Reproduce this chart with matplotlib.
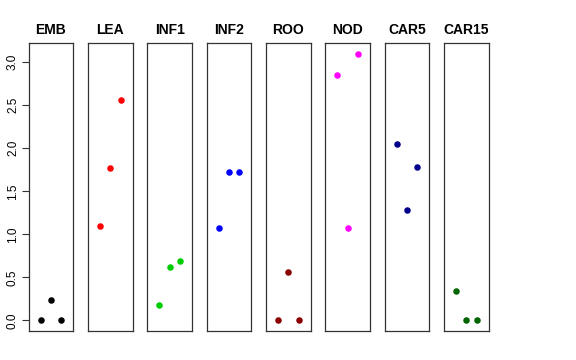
import matplotlib.pyplot as plt
import numpy as np

plt.rcParams['font.family'] = ['Liberation Sans', 'DejaVu Sans']

tissues = ['EMB', 'LEA', 'INF1', 'INF2', 'ROO', 'NOD', 'CAR5', 'CAR15']
colors = ['black', 'red', '#00cd00', 'blue', '#8b0000', 'magenta', '#00008b', '#006400']
reps = [1, 2, 3]

emb = [0.0, 0.24, 0.0]
lea = [1.10, 1.77, 2.56]
inf1 = [0.18, 0.62, 0.69]
inf2 = [1.07, 1.72, 1.73]
roo = [0.0, 0.56, 0.0]
nod = [2.85, 1.07, 3.10]
car5 = [2.05, 1.28, 1.78]
car15 = [0.34, 0.0, 0.0]
values = [emb, lea, inf1, inf2, roo, nod, car5, car15]

fig = plt.figure(figsize=(5.76, 3.6), dpi=100)

ymax = 3.1
for i, name in enumerate(tissues):
    ax = fig.add_axes([0.0498 + 0.103 * i, 0.0806, 0.0774, 0.8])
    ax.scatter(reps, values[i], s=22, color=colors[i], linewidths=0, zorder=3)
    ax.set_xlim(-0.16, 4.16)
    ax.set_ylim(-0.04 * ymax, ymax * 1.04)
    ax.set_title(name, fontsize=10, fontweight='bold', pad=6.5)
    ax.set_xticks([])
    for sp in ax.spines.values():
        sp.set_linewidth(0.9)
        sp.set_color('#333333')
    if i == 0:
        ax.set_yticks(np.arange(0, 3.01, 0.5))
        ax.set_yticklabels(['%.1f' % v for v in np.arange(0, 3.01, 0.5)],
                           rotation=90, va='center', fontsize=8.5)
        ax.tick_params(axis='y', length=5, width=0.8, color='#333333', pad=2)
    else:
        ax.set_yticks([])

plt.savefig('out.png', dpi=100)
